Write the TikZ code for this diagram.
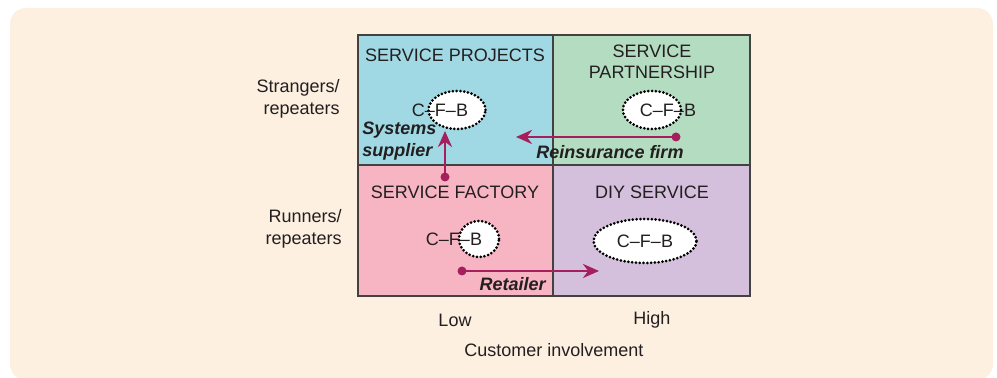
\documentclass[tikz,border=0pt]{standalone}
\usepackage{fontspec}
\setmainfont{Liberation Sans}
\usetikzlibrary{shapes.geometric,arrows.meta}
\definecolor{bgc}{HTML}{FDF0E1}
\definecolor{qblue}{HTML}{A0D9E4}
\definecolor{qgreen}{HTML}{B4DCC1}
\definecolor{qpink}{HTML}{F7B5C3}
\definecolor{qpurple}{HTML}{D4BFDC}
\definecolor{arrc}{HTML}{A51F5C}
\definecolor{txt}{HTML}{231F20}
\tikzset{
  quad/.style={draw=txt!85, line width=0.7pt},
  qtitle/.style={font=\fontsize{9}{10.5}\selectfont, text=txt, align=center, inner sep=0pt},
  axlab/.style={font=\fontsize{9}{11}\selectfont, text=txt, inner sep=0pt},
  blob/.style={ellipse, draw=black, fill=white, line width=1.5pt, dash pattern=on 0pt off 1.9pt, line cap=round, inner sep=0pt},
  cfb/.style={font=\fontsize{9}{10}\selectfont, text=txt, inner sep=0pt},
  firm/.style={font=\fontsize{9}{11}\selectfont\bfseries\itshape, text=txt, inner sep=0pt},
  move/.style={draw=arrc, line width=1.4pt, -{Stealth[length=8pt,width=7pt]}},
  dotc/.style={circle, fill=arrc, inner sep=0pt, minimum size=4.5pt}
}
\begin{document}
\begin{tikzpicture}[x=0.5pt,y=-0.5pt]
\useasboundingbox (0,0) rectangle (997,378);
\fill[white] (0,0) rectangle (997,378);
\fill[bgc, rounded corners=8pt] (10,8) rectangle (993,380);
% quadrants
\fill[qblue] (358,35) rectangle (553,165);
\fill[qgreen] (553,35) rectangle (750,165);
\fill[qpink] (358,165) rectangle (553,296);
\fill[qpurple] (553,165) rectangle (750,296);
\draw[quad] (358,35) rectangle (750,296);
\draw[quad] (553,35) -- (553,296);
\draw[quad] (358,165) -- (750,165);
% titles
\node[qtitle] (tSP) at (455,55) {SERVICE PROJECTS};
\node[qtitle] (tSPa) at (652,62) {SERVICE\\PARTNERSHIP};
\node[qtitle] (tSF) at (455,192) {SERVICE FACTORY};
\node[qtitle] (tDIY) at (652,192) {DIY SERVICE};
% ellipses
\node[blob, minimum width=28.5pt, minimum height=19pt] (eSP) at (457,110) {};
\node[cfb] (cSP) at (440,110) {C–F–B};
\node[blob, minimum width=29pt, minimum height=19pt] (eSPa) at (652,110) {};
\node[cfb] (cSPa) at (668,110) {C–F–B};
\node[blob, minimum width=20pt, minimum height=18pt] (eSF) at (479,239) {};
\node[cfb] (cSF) at (454,239) {C–F–B};
\node[blob, minimum width=51.5pt, minimum height=22pt] (eDIY) at (645,241) {};
\node[cfb] (cDIY) at (645,241) {C–F–B};
% axis labels
\node[axlab, align=right, anchor=east] (ys) at (340,99) {Strangers/\\repeaters};
\node[axlab, align=right, anchor=east] (yr) at (342,229) {Runners/\\repeaters};
\node[axlab] (xl) at (455,320) {Low};
\node[axlab] (xh) at (652,320) {High};
\node[axlab] (xt) at (554,350) {Customer involvement};
% movements
\node[dotc] (d1) at (445,177) {};
\coordinate (t1) at (445,131);
\draw[move] (d1.center) -- (t1);
\node[dotc] (d2) at (676,137) {};
\coordinate (t2) at (516,137);
\draw[move] (d2.center) -- (t2);
\node[dotc] (d3) at (462,271) {};
\coordinate (t3) at (599,271);
\draw[move] (d3.center) -- (t3);
\node[firm, align=left, anchor=west] (lSys) at (362,141) {Systems\\supplier};
\node[firm] (lRe) at (610,152) {Reinsurance firm};
\node[firm, anchor=east] (lRet) at (546,284) {Retailer};
\end{tikzpicture}
\end{document}
